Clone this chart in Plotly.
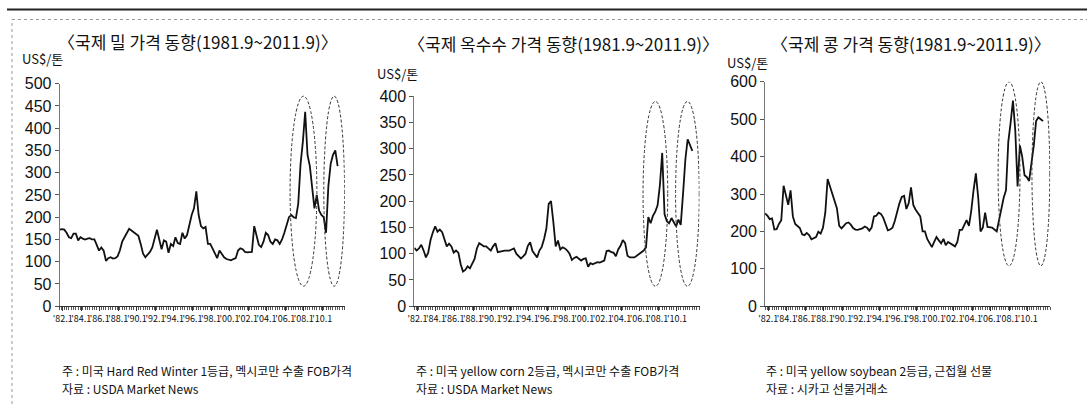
import pandas as pd
import plotly.graph_objects as go

# ---------------- data (quarterly readings, 1981.9 ~ 2011.9) ----------------
start_date = "1981-09-01"
end_range = "2012-06-10"

wheat = [172, 173, 172, 165, 155, 153, 163, 163, 148, 155,
         152, 150, 152, 153, 150, 150, 138, 125, 132, 125,
         102, 108, 110, 107, 108, 112, 125, 145, 155, 165,
         174, 170, 166, 163, 158, 140, 118, 110, 115, 122,
         132, 150, 172, 150, 128, 148, 145, 120, 140, 135,
         155, 142, 140, 165, 152, 160, 185, 205, 220, 258,
         205, 180, 175, 178, 140, 140, 130, 120, 108, 125,
         118, 110, 106, 104, 103, 106, 108, 125, 130, 128,
         122, 121, 121, 122, 180, 155, 138, 133, 145, 165,
         160, 145, 140, 150, 148, 140, 150, 165, 183, 200,
         205, 200, 198, 230, 320, 370, 437, 340, 315, 260,
         220, 250, 215, 205, 200, 165, 270, 320, 340, 350,
         315]

corn = [111, 106, 110, 117, 106, 93, 102, 126, 141, 152,
        142, 146, 141, 128, 114, 119, 114, 102, 106, 102,
        80, 66, 69, 76, 72, 81, 90, 110, 120, 117,
        114, 114, 110, 106, 114, 120, 103, 104, 106, 106,
        106, 106, 108, 110, 100, 96, 91, 95, 100, 115,
        122, 105, 98, 93, 106, 113, 128, 148, 195, 200,
        160, 114, 125, 108, 112, 110, 106, 100, 88, 92,
        94, 90, 87, 90, 91, 75, 82, 80, 82, 84,
        83, 85, 87, 105, 106, 103, 102, 95, 108, 115,
        126, 120, 96, 93, 93, 93, 96, 99, 102, 106,
        112, 170, 158, 172, 180, 192, 230, 292, 175, 162,
        158, 168, 160, 152, 165, 155, 215, 280, 318, 308,
        296]

soy = [248, 242, 233, 235, 205, 206, 220, 230, 322, 300,
       271, 310, 240, 220, 214, 209, 192, 190, 196, 190,
       179, 181, 185, 199, 194, 210, 250, 340, 320, 296,
       279, 262, 215, 208, 215, 222, 224, 218, 209, 205,
       204, 205, 208, 213, 210, 202, 210, 240, 242, 250,
       247, 237, 220, 203, 205, 210, 228, 255, 275, 292,
       295, 260, 275, 318, 270, 258, 250, 240, 200, 200,
       180, 168, 158, 172, 185, 176, 168, 180, 163, 172,
       168, 165, 160, 172, 204, 204, 215, 230, 215, 255,
       310, 355, 290, 200, 210, 250, 212, 210, 210, 205,
       200, 230, 260, 290, 310, 440, 490, 550, 470, 320,
       430, 400, 350, 345, 335, 380, 430, 495, 505, 500,
       495]

dates = pd.date_range(start_date, periods=len(wheat), freq="3MS")

tick_dates = [f"{y}-01-01" for y in range(1982, 2011, 2)]
tick_text = ["'82.1", "'84.1", "'86.1", "'88.1", "'90.1", "'92.1", "'94.1", "'96.1",
             "'98.1", "'00.1", "'02.1", "'04.1", "'06.1", "'08.1", "'10.1"]

titles = ["〈국제 밀 가격 동향(1981.9~2011.9)〉",
          "〈국제 옥수수 가격 동향(1981.9~2011.9)〉",
          "〈국제 콩 가격 동향(1981.9~2011.9)〉"]
unit_label = "US$/톤"
notes = [["주 : 미국 Hard Red Winter 1등급, 멕시코만 수출 FOB가격", "자료 : USDA Market News"],
         ["주 : 미국 yellow corn 2등급, 멕시코만 수출 FOB가격", "자료 : USDA Market News"],
         ["주 : 미국 yellow soybean 2등급, 근접월 선물", "자료 : 시카고 선물거래소"]]

y_max = [500, 400, 600]
y_step = [50, 50, 100]

# highlighted periods (dashed ellipses): (start, end, low, high)
highlights = [
    [("2006-07-15", "2009-06-05", 45, 472), ("2010-03-05", "2012-06-01", 45, 472)],
    [("2006-05-07", "2009-01-05", 38, 390), ("2009-11-10", "2012-06-01", 38, 390)],
    [("2006-10-25", "2009-03-05", 108, 600), ("2010-06-20", "2012-05-25", 108, 600)],
]

series = [wheat, corn, soy]

# ---------------- layout geometry ----------------
W, H = 1087, 413
x_pix = [(53, 340), (410, 697), (763, 1050)]
y_pix = [(311, 79), (311, 92), (311, 77)]
title_pos = [(192, 35), (560, 37), (910, 37)]
unit_pos = [(13, 53), (370, 68), (723, 57)]
note_pos = [(53, 378), (410, 378), (762, 378)]

def px(x):
    return x / W

def py(y):
    return 1 - y / H

num_font = "Liberation Sans, Arial, sans-serif"
kr_font = "Noto Sans CJK KR, sans-serif"

fig = go.Figure()
layout = dict(width=W, height=H, margin=dict(l=0, r=0, t=0, b=0),
              paper_bgcolor="white", plot_bgcolor="white", showlegend=False,
              font=dict(family=num_font, color="#111"))

shapes = []
annotations = []

for i in range(3):
    sx = "" if i == 0 else str(i + 1)
    fig.add_trace(go.Scatter(x=dates, y=series[i], mode="lines",
                             line=dict(color="#111", width=1.8),
                             xaxis="x" + sx, yaxis="y" + sx, hoverinfo="skip"))
    layout["xaxis" + sx] = dict(
        domain=[px(x_pix[i][0]), px(x_pix[i][1])], anchor="y" + sx,
        type="date", range=[start_date, end_range],
        tickmode="array", tickvals=tick_dates, ticktext=tick_text, tickangle=0,
        ticks="outside", ticklen=4, tickwidth=1, tickcolor="#333",
        showline=True, linecolor="#333", linewidth=1,
        showgrid=False, zeroline=False,
        tickfont=dict(family=kr_font, size=9, color="#111"),
        minor=dict(ticks="outside", ticklen=3, tickwidth=1, tickcolor="#555",
                   dtick="M3", tick0=start_date, showgrid=False),
    )
    layout["yaxis" + sx] = dict(
        domain=[py(y_pix[i][0]), py(y_pix[i][1])], anchor="x" + sx,
        range=[0, y_max[i]], dtick=y_step[i], tick0=0,
        ticks="outside", ticklen=4, tickwidth=1, tickcolor="#555",
        showline=True, linecolor="#777", linewidth=1,
        showgrid=False, zeroline=False,
        tickfont=dict(family=num_font, size=16, color="#111"),
    )
    for (a, b, lo, hi) in highlights[i]:
        shapes.append(dict(type="circle", xref="x" + sx, yref="y" + sx,
                           x0=a, x1=b, y0=lo, y1=hi,
                           line=dict(color="#333", width=1, dash="3px,2px")))
    annotations.append(dict(text=titles[i], xref="paper", yref="paper",
                            x=px(title_pos[i][0]), y=py(title_pos[i][1]),
                            xanchor="center", yanchor="middle", showarrow=False,
                            font=dict(family=kr_font, size=17, color="#111")))
    annotations.append(dict(text=unit_label, xref="paper", yref="paper",
                            x=px(unit_pos[i][0]), y=py(unit_pos[i][1]),
                            xanchor="left", yanchor="middle", showarrow=False,
                            font=dict(family=kr_font, size=13, color="#111")))
    for j, line in enumerate(notes[i]):
        annotations.append(dict(text=line, xref="paper", yref="paper",
                                x=px(note_pos[i][0]), y=py(note_pos[i][1] + 19 * j),
                                xanchor="left", yanchor="middle", showarrow=False,
                                font=dict(family=kr_font, size=12, color="#111")))

# page frame (scanned document borders)
shapes.append(dict(type="line", xref="paper", yref="paper", x0=0, x1=1,
                   y0=py(1.5), y1=py(1.5), line=dict(color="#222", width=2)))
shapes.append(dict(type="line", xref="paper", yref="paper", x0=px(5), x1=1,
                   y0=py(12), y1=py(12), line=dict(color="#999", width=1, dash="dot")))
shapes.append(dict(type="line", xref="paper", yref="paper", x0=px(5), x1=px(5),
                   y0=0, y1=py(12), line=dict(color="#999", width=1, dash="dot")))

layout["shapes"] = shapes
layout["annotations"] = annotations
fig.update_layout(**layout)

fig.write_html("out.html", config={"displayModeBar": False},
               post_script="document.body.style.margin='0px';document.body.style.overflow='hidden';")
